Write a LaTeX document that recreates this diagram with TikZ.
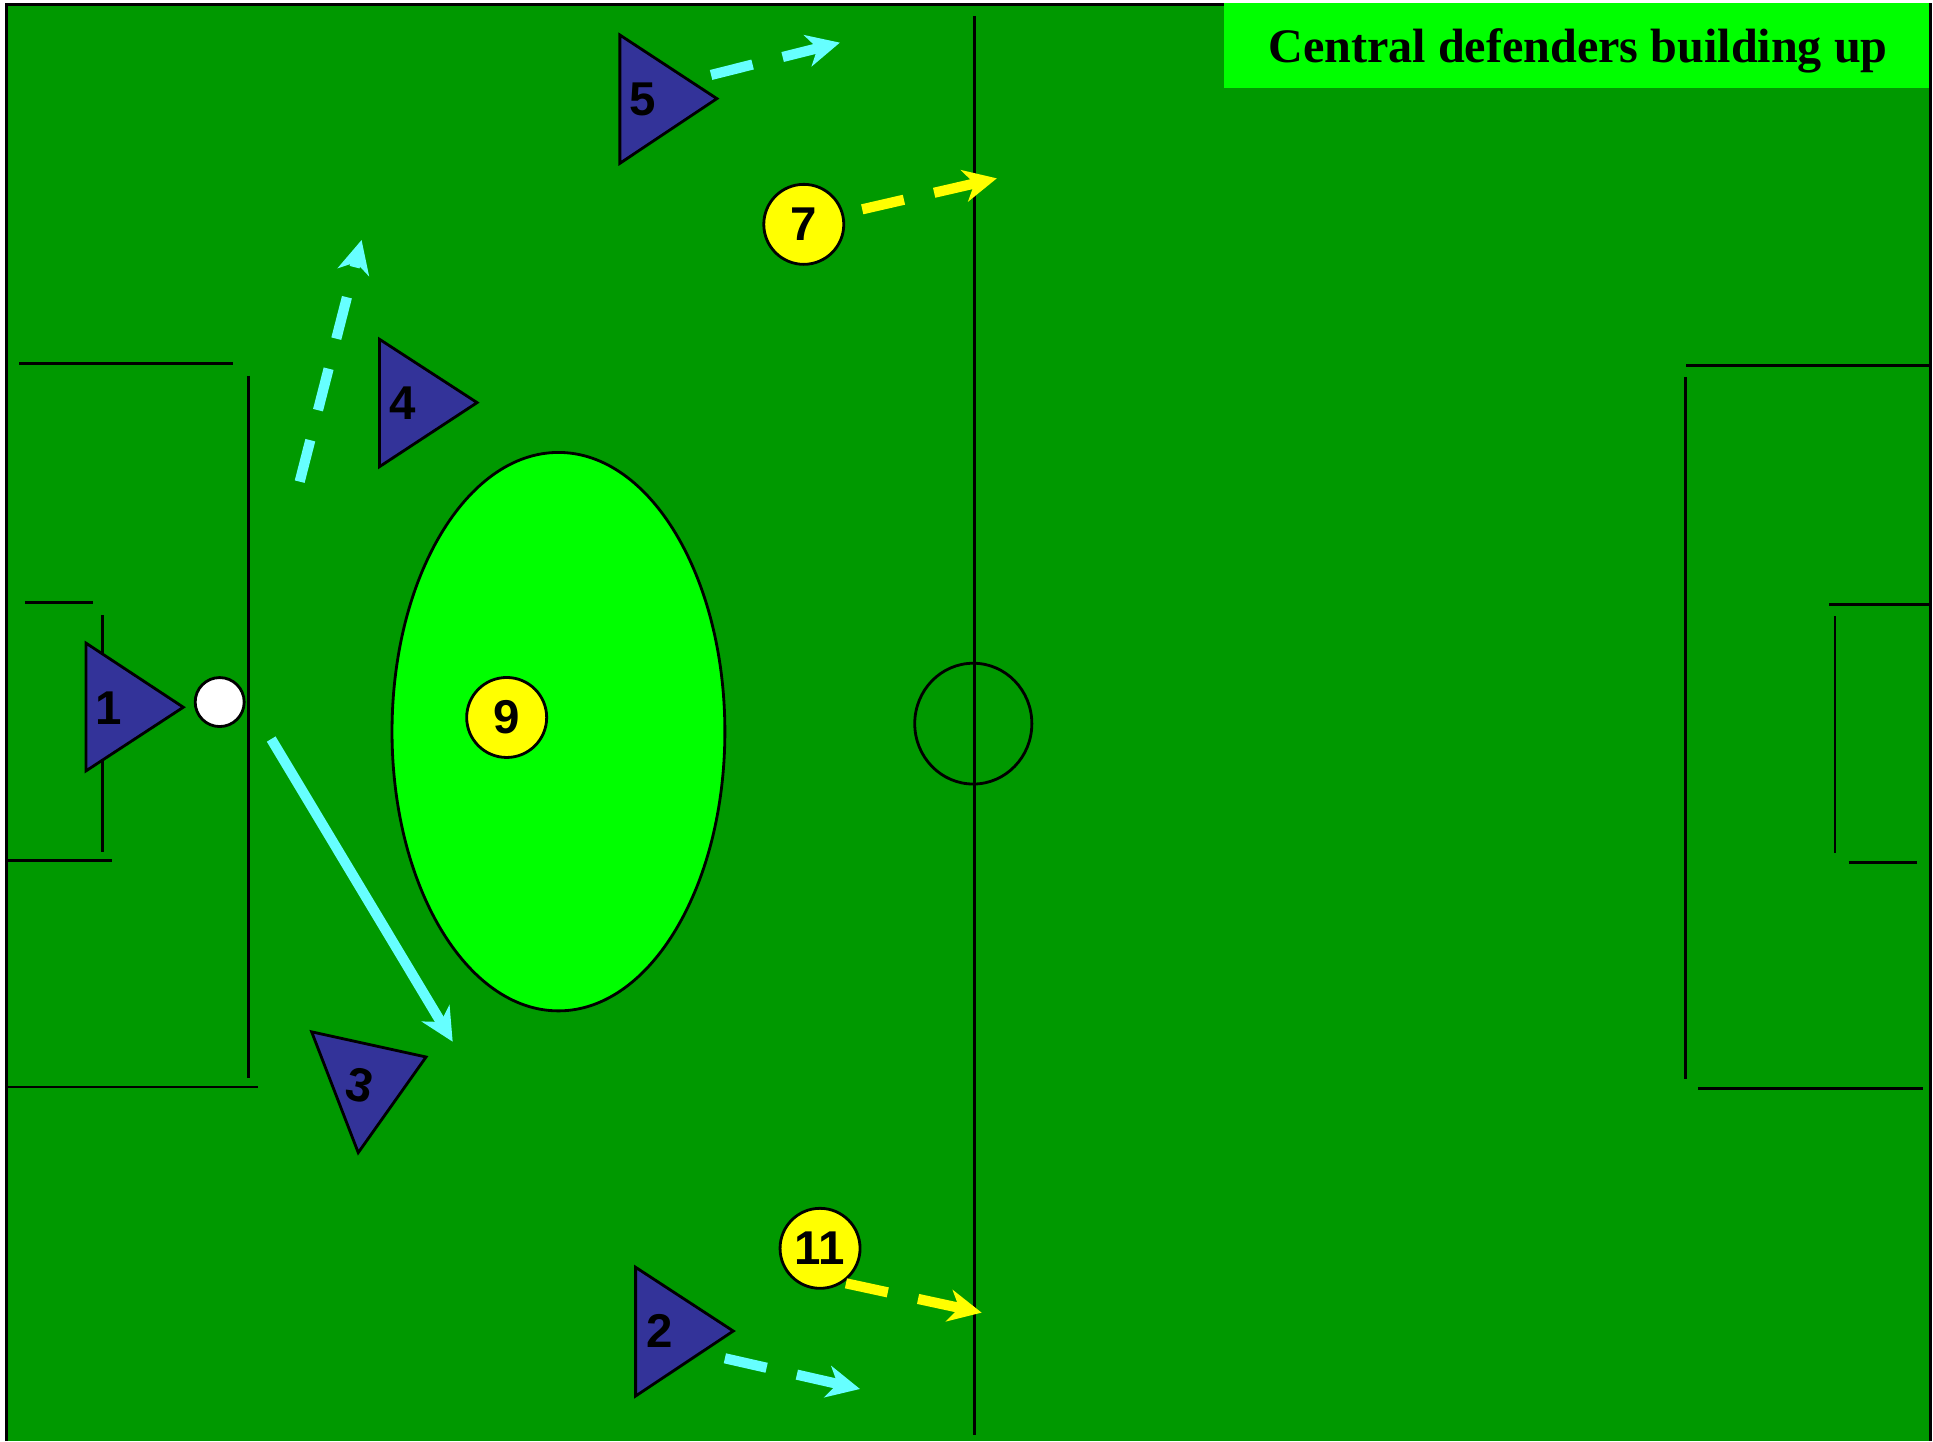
\documentclass[tikz,border=0pt]{standalone}
\usepackage{fontspec}
\setmainfont{Liberation Serif}
\newfontfamily\numfont{Liberation Sans}
\usetikzlibrary{arrows.meta}
\definecolor{fieldgreen}{HTML}{009900}
\definecolor{zonegreen}{HTML}{00FF00}
\definecolor{navyc}{HTML}{333399}
\definecolor{yell}{HTML}{FFFF00}
\definecolor{cyanc}{HTML}{66FFFF}
\begin{document}
\begin{tikzpicture}[x=0.012328cm,y=-0.012328cm,
  pline/.style={draw=black,line width=0.8pt},
  player/.style={draw=black,line width=0.8pt,fill=navyc,line join=miter},
  num/.style={font=\numfont\bfseries\fontsize{13.5}{15}\selectfont,inner sep=0pt},
  opp/.style={circle,draw=black,line width=0.8pt,fill=yell,minimum size=0.80cm,inner sep=0pt,
    font=\numfont\bfseries\fontsize{13.5}{15}\selectfont},
  ballst/.style={circle,draw=black,line width=0.8pt,fill=white,minimum size=0.49cm,inner sep=0pt},
  tipst/.style={-{Stealth[length=0.33cm,width=0.32cm,inset=0.1cm]}},
  cyandash/.style={tipst,draw=cyanc,line width=2.9pt,dash pattern=on 0.428cm off 0.31cm},
  yelldash/.style={tipst,draw=yell,line width=2.9pt,dash pattern=on 0.428cm off 0.31cm},
  cyanpass/.style={tipst,draw=cyanc,line width=2.9pt},
]
\useasboundingbox (0,0) rectangle (1568,1169);
\fill[white] (0,0) rectangle (1568,1169);
% field
\fill[fieldgreen] (5.5,3.5) rectangle (1566,1169);
\draw[pline] (5.5,1169) -- (5.5,3.5) -- (1566,3.5) -- (1566,1169);
% title box
\fill[zonegreen] (992.5,2.5) rectangle (1565,71.6);
\node[anchor=base,inner sep=0pt,font=\bfseries\fontsize{13.7}{16}\selectfont] (title) at (1280,51) {Central defenders building up};
% halfway line and centre circle
\draw[pline] (790.5,13) -- (790.5,1164);
\draw[pline] (789.5,587) ellipse [x radius=47.5,y radius=49];
% left penalty area
\draw[pline] (15.5,294.7) -- (188.8,294.7);
\draw[pline] (201.3,305) -- (201.3,874.5);
\draw[pline] (5.5,881.7) -- (209,881.7);
% left goal area
\draw[pline] (20.3,488.5) -- (75.2,488.5);
\draw[pline] (83,499) -- (83,691);
\draw[pline] (5.5,698.3) -- (90.6,698.3);
% right penalty area
\draw[pline] (1367.9,296.6) -- (1566,296.6);
\draw[pline] (1367.3,305.7) -- (1367.3,875.2);
\draw[pline] (1377.7,883.1) -- (1559.5,883.1);
% right goal area
\draw[pline] (1484,490.3) -- (1566,490.3);
\draw[pline] (1488.5,499.7) -- (1488.5,691.9);
\draw[pline] (1499.6,699.8) -- (1555.3,699.8);
% zone
\draw[pline,fill=zonegreen] (453,593.5) ellipse [x radius=135,y radius=226.5];
% players (triangles)
\draw[player] (69.8,521.7) -- (69.8,625.3) -- (148.7,573.7) -- cycle;
\node[num] (p1) at (87.9,574.6) {1};
\draw[player] (307.8,275.2) -- (307.8,378.6) -- (387,326.6) -- cycle;
\node[num] (p4) at (327,327.2) {4};
\draw[player] (502.8,28.4) -- (502.8,132.5) -- (581.5,80) -- cycle;
\node[num] (p5) at (521.5,81) {5};
\draw[player] (515.6,1028) -- (515.6,1132.4) -- (594.8,1079.7) -- cycle;
\node[num] (p2) at (535.4,1080) {2};
\draw[player] (252.8,837) -- (345.6,857.4) -- (290.6,935) -- cycle;
\node[num,rotate=-12] (p3) at (292,880.7) {3};
% opponents
\node[opp] (o7) at (652,182) {7};
\node[opp] (o9) at (411,582) {9};
\node[opp] (o11) at (665.2,1012.6) {11};
% ball
\node[ballst] (ball) at (178.2,569.5) {};
% arrow end points
\coordinate (passS) at (220,599.5);
\coordinate (passE) at (367.2,845);
\coordinate (r4S) at (243.1,390.7);
\coordinate (r4E) at (293.3,194.7);
\coordinate (r5S) at (576.8,60.8);
\coordinate (r5E) at (681.3,34.6);
\coordinate (r7S) at (699.4,169.8);
\coordinate (r7E) at (808.6,144.7);
\coordinate (r11S) at (686.2,1041);
\coordinate (r11E) at (796.3,1064.8);
\coordinate (r2S) at (588,1101.8);
\coordinate (r2E) at (697.6,1126.7);
% arrows
\draw[cyanpass] (passS) -- (passE);
\draw[cyandash] (r4S) -- (r4E);
\draw[cyandash] (r5S) -- (r5E);
\draw[yelldash] (r7S) -- (r7E);
\draw[yelldash] (r11S) -- (r11E);
\draw[cyandash] (r2S) -- (r2E);
\end{tikzpicture}
\end{document}
